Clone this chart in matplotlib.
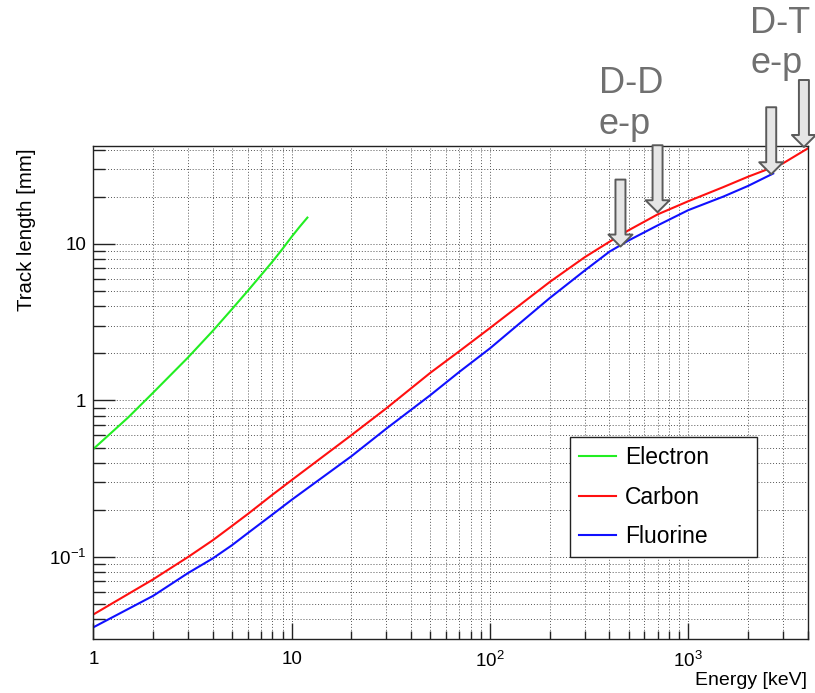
"""Track length vs. recoil energy for electrons, carbon and fluorine ions."""

import numpy as np
import matplotlib
matplotlib.use("Agg")
import matplotlib.pyplot as plt
import matplotlib.ticker as mticker

plt.rcParams["font.family"] = ["Liberation Sans", "DejaVu Sans"]
plt.rcParams["mathtext.default"] = "regular"

# === DATA ===
electron_energy = [1, 1.5, 2, 3, 4, 5, 6, 7, 8, 9, 10, 11, 12]          # keV
electron_range = [0.49, 0.78, 1.12, 1.88, 2.78, 3.83, 5.0, 6.3, 7.7, 9.3, 11.1, 12.9, 14.7]  # mm

carbon_energy = [1, 2, 3, 4, 5, 6, 8, 10, 20, 30, 50, 70, 100, 200, 300, 400,
                 500, 700, 1000, 1500, 2000, 3000, 4000]
carbon_range = [0.043, 0.072, 0.100, 0.128, 0.158, 0.188, 0.25, 0.31, 0.60, 0.89,
                1.50, 2.06, 2.90, 5.7, 8.2, 10.3, 12.2, 15.4, 18.7, 23.0, 26.8, 32.6, 40.6]

fluorine_energy = [1, 2, 3, 4, 5, 6, 8, 10, 20, 30, 50, 70, 100, 200, 300, 400,
                   500, 700, 1000, 1500, 2000, 2680]
fluorine_range = [0.0356, 0.0565, 0.079, 0.098, 0.119, 0.142, 0.187, 0.232, 0.44, 0.66,
                  1.08, 1.52, 2.15, 4.5, 6.74, 8.9, 10.5, 13.1, 16.4, 20.0, 23.4, 28.1]

# max recoil energies for D-D and D-T neutrons (F, C, F, C)
arrow_energy = [455, 700, 2620, 3830]
arrow_range = [9.6, 15.9, 27.8, 41.5]

source_labels = [("D-D", "e-p"), ("D-T", "e-p")]

# === PLOT ===
fig = plt.figure(figsize=(8.15, 6.93), dpi=100)
ax = fig.add_axes([93.4 / 815, 1 - 638.7 / 693, (808.3 - 93.4) / 815, (638.7 - 145.7) / 693])

ax.plot(electron_energy, electron_range, color="#22ee22", lw=1.5, label="Electron")
ax.plot(carbon_energy, carbon_range, color="#ff1010", lw=1.5, label="Carbon")
ax.plot(fluorine_energy, fluorine_range, color="#1010ff", lw=1.5, label="Fluorine")

ax.set_xscale("log")
ax.set_yscale("log")
ax.set_xlim(1, 4030)
ax.set_ylim(0.0301, 42.3)


def root_log_label(v, pos):
    exp = int(round(np.log10(v)))
    if exp in (0, 1):
        return f"{10**exp}"
    return rf"$\mathdefault{{10^{{{exp}}}}}$"


for axis in (ax.xaxis, ax.yaxis):
    axis.set_major_locator(mticker.LogLocator(base=10))
    axis.set_minor_locator(mticker.LogLocator(base=10, subs=np.arange(2, 10)))
    axis.set_major_formatter(mticker.FuncFormatter(root_log_label))
    axis.set_minor_formatter(mticker.NullFormatter())

ax.tick_params(which="both", direction="in", top=False, right=False,
               labelsize=13.5, width=1, color="#222222")
ax.tick_params(axis="y", which="major", length=15.8, pad=5.3)
ax.tick_params(axis="y", which="minor", length=8.6)
ax.tick_params(axis="x", which="major", length=11.3, pad=8.5)
ax.tick_params(axis="x", which="minor", length=6.1)

ax.grid(True, which="both", color="#555555", ls=(0, (1, 2)), lw=0.7)
ax.set_axisbelow(True)
for sp in ax.spines.values():
    sp.set_linewidth(1)
    sp.set_color("#222222")

ax.set_xlabel("Energy [keV]", fontsize=14, loc="right")
ax.xaxis.set_label_coords(0.9977, -0.0675)
ax.set_ylabel("Track length [mm]", fontsize=14.7, loc="top")
ax.yaxis.set_label_coords(-0.08, 0.9947)

leg = ax.legend(loc="upper left", bbox_to_anchor=(0.667, 0.168, 0.261, 0.241),
                mode="expand", fontsize=16.5, frameon=True, fancybox=False,
                framealpha=1, edgecolor="#222222", borderpad=0.4,
                labelspacing=0.72, handlelength=1.6, handletextpad=0.4,
                borderaxespad=0)
leg.get_frame().set_linewidth(1)

# recoil-edge arrows, drawn in pixel units above each tip
for e, r in zip(arrow_energy, arrow_range):
    ax.annotate("", xy=(e, r), xytext=(0, 67), textcoords="offset pixels",
                annotation_clip=False,
                arrowprops=dict(arrowstyle="simple,head_length=12,head_width=24,tail_width=10",
                                mutation_scale=0.72, shrinkA=0, shrinkB=0,
                                fc="#e6e6e6", ec="#5a5a5a", lw=1.4))

for (top, bottom), x0, y_top, y_bot in zip(source_labels, [599, 750], [92.7, 33.3], [134.5, 73]):
    fig.text(x0 / 815, 1 - y_top / 693, top, fontsize=26, color="#707070",
             ha="left", va="baseline")
    fig.text(x0 / 815, 1 - y_bot / 693, bottom, fontsize=26, color="#707070",
             ha="left", va="baseline")

plt.savefig("out.png", dpi=100)
